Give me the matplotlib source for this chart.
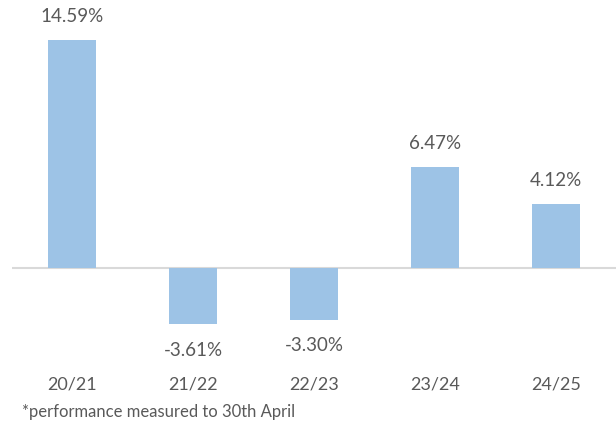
import matplotlib.pyplot as plt

plt.rcParams['font.family'] = ['Lato', 'DejaVu Sans']

years = ['20/21', '21/22', '22/23', '23/24', '24/25']
returns = [14.59, -3.61, -3.30, 6.47, 4.12]
labels = ['14.59%', '-3.61%', '-3.30%', '6.47%', '4.12%']

TEXT = '#595959'

fig = plt.figure(figsize=[6.16, 4.26], dpi=100)
# axes spans pixel x 11.5..616.5, y 0..360 (from top)
ax = fig.add_axes([11.5 / 616, 66 / 426, 605 / 616, 360 / 426])

x = range(len(years))
ax.bar(x, returns, width=0.4, color='#9DC3E6', zorder=2)
ax.axhline(0, color='#D9D9D9', linewidth=1.5, zorder=1)

for i, (v, lab) in enumerate(zip(returns, labels)):
    off = 1.5 if v > 0 else -1.65
    ax.text(i, v + off, lab, ha='center', va='center', fontsize=13.5, color=TEXT)

ax.set_xlim(-0.5, 4.5)
ax.set_ylim(-5.89, 17.15)
ax.set_yticks([])
ax.set_xticks(list(x))
ax.set_xticklabels(years, fontsize=13, color=TEXT)
ax.tick_params(axis='x', length=0, pad=12)
for s in ax.spines.values():
    s.set_visible(False)

fig.text(22 / 616, 1 - 412 / 426, '*performance measured to 30th April',
         fontsize=12, color=TEXT, va='center', ha='left')

fig.savefig('out.png', dpi=100)
